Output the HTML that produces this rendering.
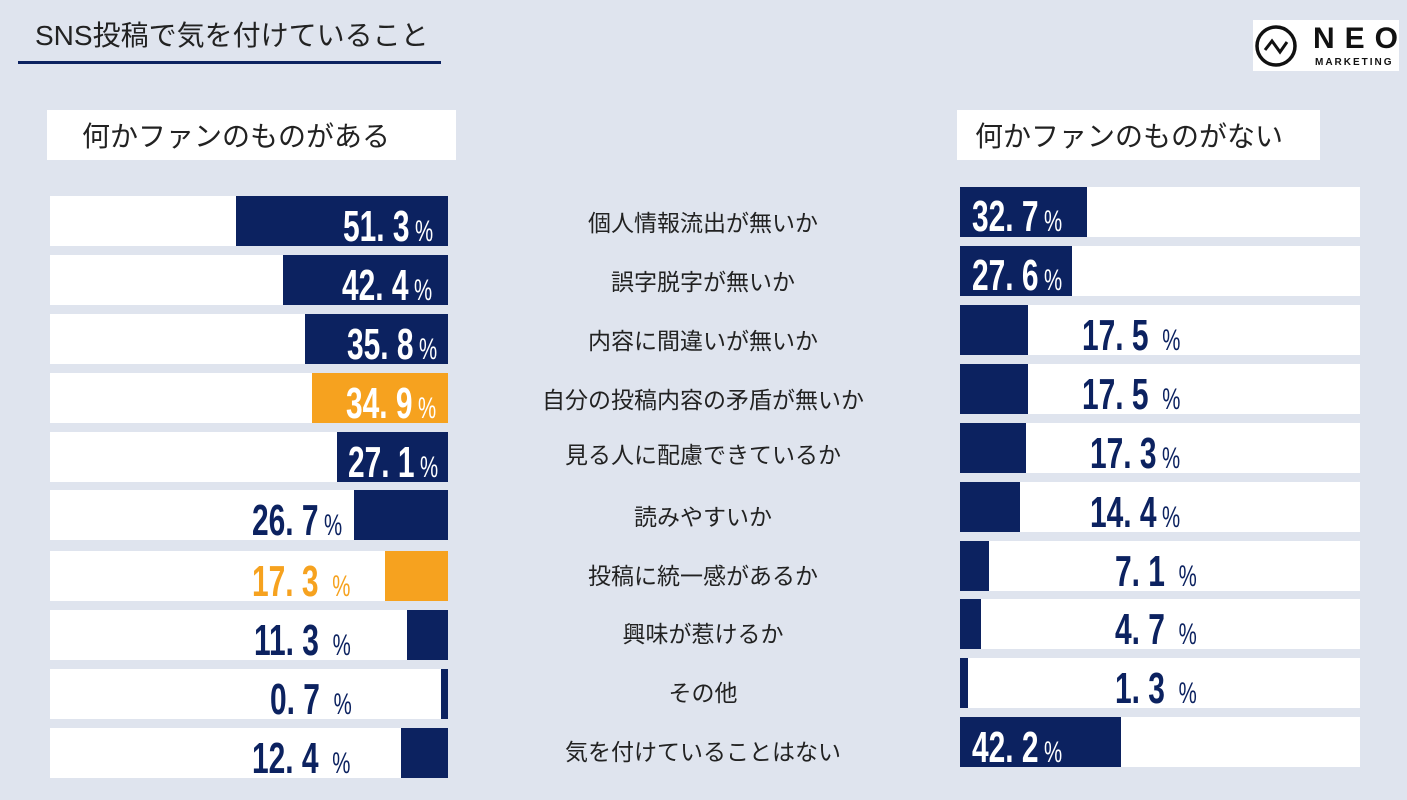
<!DOCTYPE html>
<html><head><meta charset="utf-8"><style>
body{margin:0;width:1407px;height:800px;background:#dfe4ee;position:relative;overflow:hidden;font-family:"Liberation Sans","Noto Sans CJK JP",sans-serif}
.a{position:absolute}
.bar{position:absolute;height:50px;background:#fff}
.f{position:absolute;top:0;height:50px;background:#0c2260}
.o{background:#f6a21f}
.n{position:absolute;transform:scaleX(0.68);transform-origin:left center;white-space:nowrap;font-weight:bold;font-size:44px;line-height:50px;height:50px;color:#0c2260}
.n small{font-size:30px;font-weight:normal;margin-left:8px}
.w{color:#fff}.or{color:#f6a21f}
.c{position:absolute;left:503px;width:400px;text-align:center;font-size:23px;color:#222;line-height:50px;height:50px;font-family:"Noto Sans CJK JP",sans-serif}
</style></head><body>
<div class="a" style="left:35px;top:14px;font-size:28px;color:#222;font-family:'Liberation Sans','Noto Sans CJK JP',sans-serif">SNS投稿で気を付けていること</div>
<div class="a" style="left:18px;top:61px;width:423px;height:3px;background:#0c2260"></div>
<div class="a" style="left:1253px;top:20px;width:146px;height:51px;background:#fff"></div>
<svg class="a" style="left:1253px;top:20px" width="146" height="51"><circle cx="23" cy="26" r="19" fill="none" stroke="#111" stroke-width="3.5"/><polyline points="12,30 19,21 27,32 34,22" fill="none" stroke="#111" stroke-width="3"/>
<text x="60" y="28" font-family="Liberation Sans" font-weight="bold" font-size="30" fill="#111" letter-spacing="10">NEO</text>
<text x="62" y="45" font-family="Liberation Sans" font-weight="bold" font-size="10" fill="#111" letter-spacing="2">MARKETING</text></svg>
<div class="a" style="left:47px;top:110px;width:409px;height:50px;background:#fff;font-size:28px;line-height:50px;color:#222;font-family:'Noto Sans CJK JP',sans-serif"><span style="margin-left:35px">何かファンのものがある</span></div>
<div class="a" style="left:957px;top:110px;width:363px;height:50px;background:#fff;font-size:28px;line-height:50px;color:#222;font-family:'Noto Sans CJK JP',sans-serif"><span style="margin-left:18px">何かファンのものがない</span></div>

<div class="bar" style="left:50px;top:196px;width:398px"><div class="f" style="left:186px;width:212px"></div></div>
<div class="n w" style="left:343px;top:202px">51. 3<small>%</small></div>
<div class="c" style="top:196px">個人情報流出が無いか</div>
<div class="bar" style="left:960px;top:187px;width:400px"><div class="f" style="left:0;width:127px"></div></div>
<div class="n w" style="left:972px;top:192px">32. 7<small>%</small></div>

<div class="bar" style="left:50px;top:255px;width:398px"><div class="f" style="left:233px;width:165px"></div></div>
<div class="n w" style="left:342px;top:261px">42. 4<small>%</small></div>
<div class="c" style="top:255px">誤字脱字が無いか</div>
<div class="bar" style="left:960px;top:246px;width:400px"><div class="f" style="left:0;width:112px"></div></div>
<div class="n w" style="left:972px;top:251px">27. 6<small>%</small></div>

<div class="bar" style="left:50px;top:314px;width:398px"><div class="f" style="left:255px;width:143px"></div></div>
<div class="n w" style="left:347px;top:320px">35. 8<small>%</small></div>
<div class="c" style="top:314px">内容に間違いが無いか</div>
<div class="bar" style="left:960px;top:305px;width:400px"><div class="f" style="left:0;width:68px"></div></div>
<div class="n" style="left:1082px;top:311px">17. 5 <small>%</small></div>

<div class="bar" style="left:50px;top:373px;width:398px"><div class="f o" style="left:262px;width:136px"></div></div>
<div class="n w" style="left:346px;top:379px">34. 9<small>%</small></div>
<div class="c" style="top:373px">自分の投稿内容の矛盾が無いか</div>
<div class="bar" style="left:960px;top:364px;width:400px"><div class="f" style="left:0;width:68px"></div></div>
<div class="n" style="left:1082px;top:370px">17. 5 <small>%</small></div>

<div class="bar" style="left:50px;top:432px;width:398px"><div class="f" style="left:287px;width:111px"></div></div>
<div class="n w" style="left:348px;top:438px">27. 1<small>%</small></div>
<div class="c" style="top:428px">見る人に配慮できているか</div>
<div class="bar" style="left:960px;top:423px;width:400px"><div class="f" style="left:0;width:66px"></div></div>
<div class="n" style="left:1090px;top:429px">17. 3<small>%</small></div>

<div class="bar" style="left:50px;top:490px;width:398px"><div class="f" style="left:304px;width:94px"></div></div>
<div class="n" style="left:252px;top:496px">26. 7<small>%</small></div>
<div class="c" style="top:490px">読みやすいか</div>
<div class="bar" style="left:960px;top:482px;width:400px"><div class="f" style="left:0;width:60px"></div></div>
<div class="n" style="left:1090px;top:488px">14. 4<small>%</small></div>

<div class="bar" style="left:50px;top:551px;width:398px"><div class="f o" style="left:335px;width:63px"></div></div>
<div class="n or" style="left:252px;top:557px">17. 3 <small>%</small></div>
<div class="c" style="top:549px">投稿に統一感があるか</div>
<div class="bar" style="left:960px;top:541px;width:400px"><div class="f" style="left:0;width:29px"></div></div>
<div class="n" style="left:1115px;top:547px">7. 1 <small>%</small></div>

<div class="bar" style="left:50px;top:610px;width:398px"><div class="f" style="left:357px;width:41px"></div></div>
<div class="n" style="left:254px;top:616px">11. 3 <small>%</small></div>
<div class="c" style="top:607px">興味が惹けるか</div>
<div class="bar" style="left:960px;top:599px;width:400px"><div class="f" style="left:0;width:21px"></div></div>
<div class="n" style="left:1115px;top:605px">4. 7 <small>%</small></div>

<div class="bar" style="left:50px;top:669px;width:398px"><div class="f" style="left:391px;width:7px"></div></div>
<div class="n" style="left:270px;top:675px">0. 7 <small>%</small></div>
<div class="c" style="top:666px">その他</div>
<div class="bar" style="left:960px;top:658px;width:400px"><div class="f" style="left:0;width:8px"></div></div>
<div class="n" style="left:1115px;top:664px">1. 3 <small>%</small></div>

<div class="bar" style="left:50px;top:728px;width:398px"><div class="f" style="left:351px;width:47px"></div></div>
<div class="n" style="left:252px;top:734px">12. 4 <small>%</small></div>
<div class="c" style="top:725px">気を付けていることはない</div>
<div class="bar" style="left:960px;top:717px;width:400px"><div class="f" style="left:0;width:161px"></div></div>
<div class="n w" style="left:972px;top:723px">42. 2<small>%</small></div>
</body></html>
